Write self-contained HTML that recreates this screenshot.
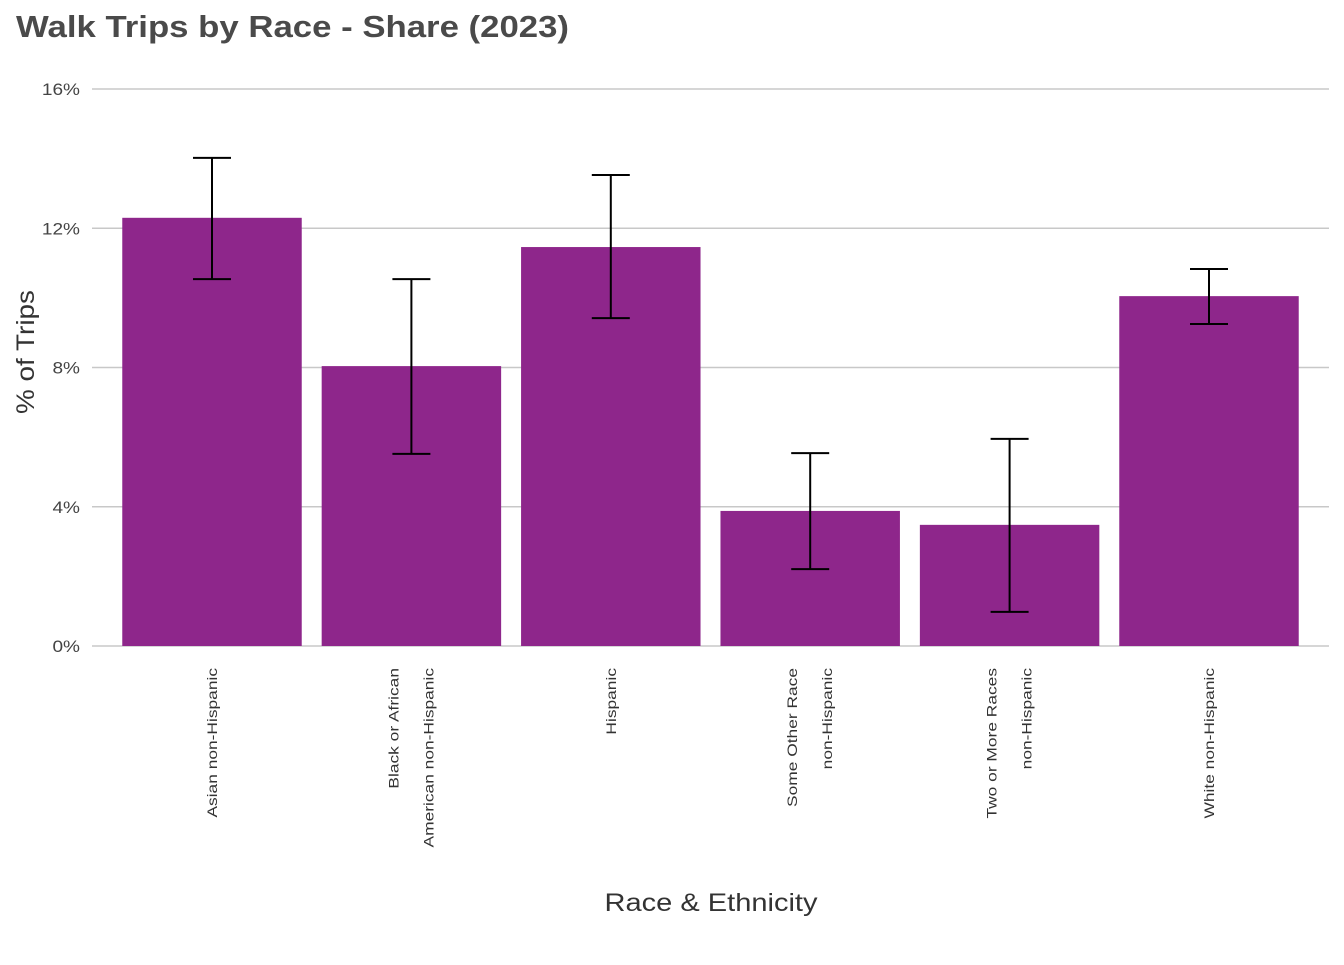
<!DOCTYPE html>
<html><head><meta charset="utf-8"><style>
body{margin:0;background:#fff;font-family:"Liberation Sans",sans-serif}
</style></head><body>
<svg width="1344" height="960" xmlns="http://www.w3.org/2000/svg" id="chart">
<text x="16" y="37" font-size="31" font-weight="bold" fill="#4a4a4a" textLength="553" lengthAdjust="spacingAndGlyphs">Walk Trips by Race - Share (2023)</text>
<text transform="translate(34,352) rotate(-90)" text-anchor="middle" font-size="25" fill="#333" textLength="124" lengthAdjust="spacingAndGlyphs">% of Trips</text>
<text x="711" y="911" text-anchor="middle" font-size="25" fill="#333" textLength="213" lengthAdjust="spacingAndGlyphs">Race &amp; Ethnicity</text>
<g id="grid"></g><g id="bars"></g><g id="errs"></g><g id="xlabels"></g>
</svg>
<script>
const categories=[["Asian non-Hispanic"],["Black or African","American non-Hispanic"],["Hispanic"],["Some Other Race","non-Hispanic"],["Two or More Races","non-Hispanic"],["White non-Hispanic"]];
const values=[12.3,8.04,11.46,3.88,3.48,10.05];
const lower=[10.54,5.52,9.42,2.21,0.98,9.25];
const upper=[14.02,10.54,13.53,5.54,5.95,10.83];
const yTicks=[0,4,8,12,16];
const yTickLabels=["0%","4%","8%","12%","16%"];
const NS="http://www.w3.org/2000/svg";
const y0=646,y1=89,yMax=16;
const y=v=>y0-(v/yMax)*(y0-y1);
const bandStart=112.3,step=199.4,pad=0.1;
const xc=i=>bandStart+step*(i+0.5);
const bw=step*(1-pad);
function mk(t,a,p){const e=document.createElementNS(NS,t);for(const k in a)e.setAttribute(k,a[k]);p.appendChild(e);return e;}
function widen(t,f){const L=t.getComputedTextLength();t.setAttribute('textLength',L*f);t.setAttribute('lengthAdjust','spacingAndGlyphs');}
const grid=document.getElementById('grid');
yTicks.forEach((t,i)=>{
 const l=mk('line',{x1:92,x2:1329,y1:y(t),y2:y(t),stroke:'#c8c8c8','stroke-width':1.5},grid);
 
 
 const tx=mk('text',{x:80,y:y(t)+6,'text-anchor':'end','font-size':17,fill:'#444'},grid);
 tx.textContent=yTickLabels[i];
 
 
 widen(tx,1.12);
});
const bars=document.getElementById('bars'),errs=document.getElementById('errs'),xl=document.getElementById('xlabels');
values.forEach((v,i)=>{
 const r=mk('rect',{x:xc(i)-bw/2,y:y(v),width:bw,height:y0-y(v),fill:'#8e268b'},bars);
 
 
 const c=xc(i);
 const g=mk('g',{stroke:'#000','stroke-width':2},errs);
 
 
 mk('line',{x1:c,x2:c,y1:y(upper[i]),y2:y(lower[i])},g);
 mk('line',{x1:c-19,x2:c+19,y1:y(upper[i]),y2:y(upper[i])},g);
 mk('line',{x1:c-19,x2:c+19,y1:y(lower[i]),y2:y(lower[i])},g);
 const lines=categories[i];
 lines.forEach((s,j)=>{
  const off=lines.length===1?5:(j===0?-13:22);
  const t=mk('text',{transform:`translate(${c+off},668) rotate(-90)`,'text-anchor':'end','font-size':14,fill:'#333'},xl);
  t.textContent=s;
  
  
  widen(t,1.24);
 });
});
</script>
</body></html>
